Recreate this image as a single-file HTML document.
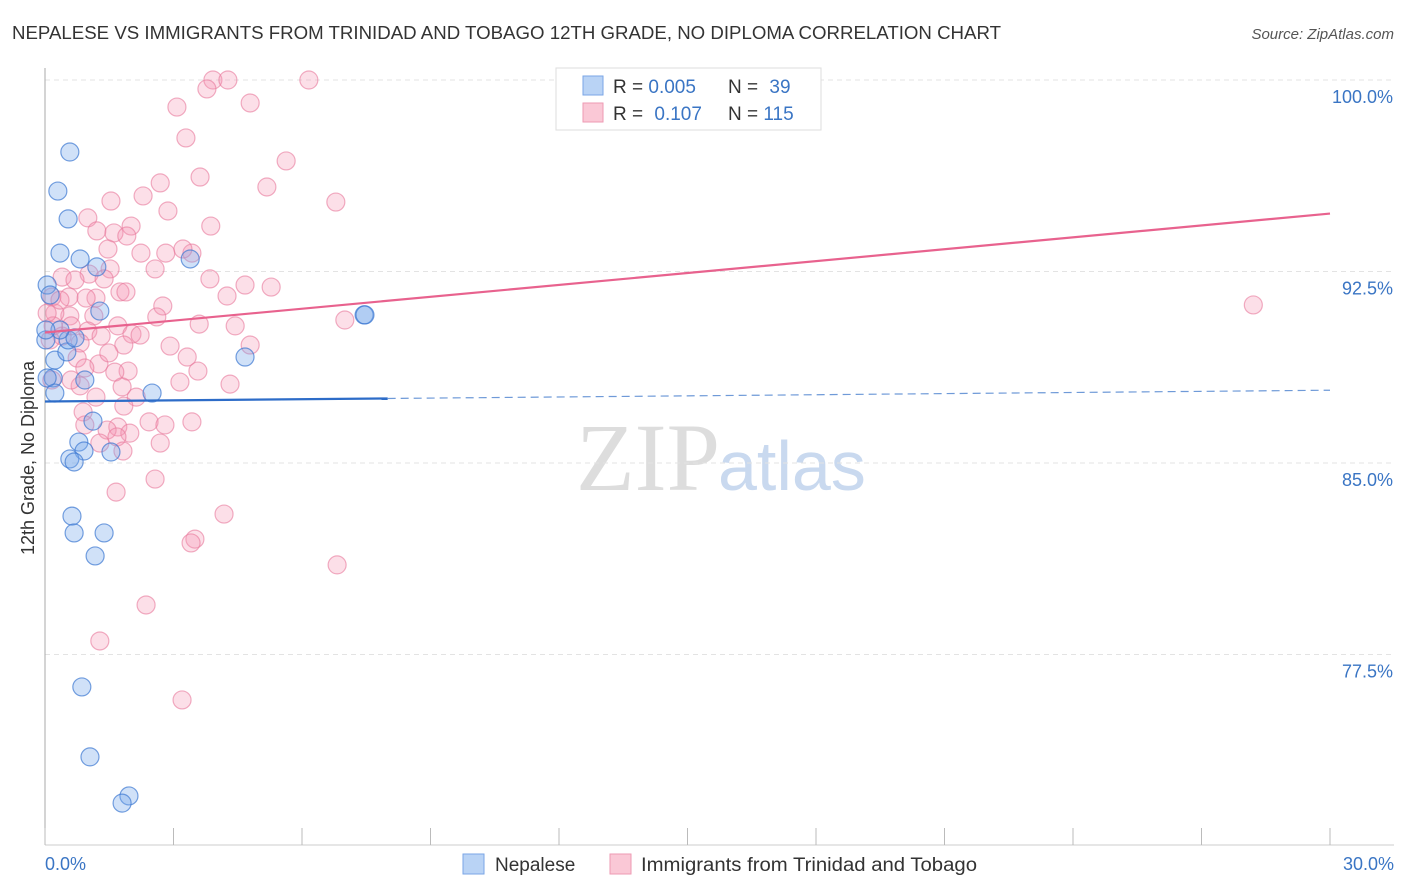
<!DOCTYPE html>
<html><head><meta charset="utf-8"><style>
body{margin:0;background:#fff;font-family:"Liberation Sans",sans-serif}
</style></head><body>
<svg id="chart" width="1406" height="892" xmlns="http://www.w3.org/2000/svg" style="display:block">
<text x="12" y="39" font-size="18" fill="#333" textLength="989" lengthAdjust="spacingAndGlyphs">NEPALESE VS IMMIGRANTS FROM TRINIDAD AND TOBAGO 12TH GRADE, NO DIPLOMA CORRELATION CHART</text>
<text x="1394" y="39" font-size="15" fill="#555" text-anchor="end" font-style="italic">Source: ZipAtlas.com</text>
<text x="720" y="490" font-size="96" fill="#ddd" text-anchor="end" font-family="Liberation Serif">ZIP</text>
<text x="718" y="490" font-size="70" fill="#c9d9ef">atlas</text>
<g id="grid"></g><g id="axes"></g><g id="pts"></g><g id="lines"></g>
<text transform="translate(34,458) rotate(-90)" font-size="18" fill="#333" text-anchor="middle">12th Grade, No Diploma</text>
<text x="45" y="870" font-size="18" fill="#3a75c4">0.0%</text>
<text x="1394" y="870" font-size="18" fill="#3a75c4" text-anchor="end">30.0%</text>
<g>
<rect x="556" y="68" width="265" height="62" fill="#fff" stroke="#ddd"/>
<rect x="583" y="76" width="20" height="19" fill="#b9d3f5" stroke="#7aa6e6"/>
<rect x="583" y="103" width="20" height="19" fill="#fac8d6" stroke="#ee9ab3"/>
<text x="613" y="93" font-size="19" fill="#333">R = <tspan fill="#3a75c4">0.005</tspan></text>
<text x="728" y="93" font-size="19" fill="#333">N = <tspan fill="#3a75c4" dx="6">39</tspan></text>
<text x="613" y="120" font-size="19" fill="#333">R = <tspan fill="#3a75c4" dx="6">0.107</tspan></text>
<text x="728" y="120" font-size="19" fill="#333">N = <tspan fill="#3a75c4">115</tspan></text>
</g>
<g>
<rect x="463" y="854" width="21" height="20" fill="#b9d3f5" stroke="#7aa6e6"/>
<text x="495" y="871" font-size="19" fill="#333">Nepalese</text>
<rect x="610" y="854" width="21" height="20" fill="#fac8d6" stroke="#ee9ab3"/>
<text x="641" y="871" font-size="19" fill="#333" textLength="336" lengthAdjust="spacingAndGlyphs">Immigrants from Trinidad and Tobago</text>
</g>
</svg>
<script>
const yTicks=[100,92.5,85,77.5];
const yTickLabels=["100.0%","92.5%","85.0%","77.5%"];
const xTicks=[0,3,6,9,12,15,18,21,24,27,30];
const blueX=[0.58,0.30,0.54,0.35,0.82,1.21,0.05,0.12,1.28,3.39,7.45,7.47,4.67,0.23,0.51,0.54,0.19,0.05,0.23,0.93,2.50,0.79,0.91,0.58,0.68,1.54,1.12,0.63,0.68,1.38,1.17,0.86,1.05,1.96,1.80,0.70,0.35,0.02,0.02];
const blueY=[97.18,95.65,94.56,93.22,92.99,92.68,91.97,91.58,90.95,92.99,90.80,90.80,89.15,89.03,89.35,89.82,88.33,88.33,87.74,88.25,87.74,85.82,85.47,85.16,85.04,85.43,86.64,82.92,82.26,82.26,81.36,76.23,73.49,71.96,71.68,89.90,90.21,89.82,90.21];
const pinkX=[3.92,4.27,6.16,3.78,3.08,4.79,3.29,5.63,3.62,5.18,2.69,6.79,2.29,1.54,2.87,1.00,3.87,2.01,1.21,1.61,1.91,2.24,2.82,3.43,3.22,1.47,2.57,1.52,1.03,0.40,0.70,1.38,3.85,4.67,5.28,4.25,1.75,1.89,1.19,0.16,0.56,2.75,2.61,1.14,0.58,0.23,7.00,28.21,3.60,4.44,1.70,2.03,1.00,1.31,0.40,0.12,0.61,2.92,4.79,1.84,0.82,0.75,1.26,3.32,3.57,1.94,1.63,0.93,3.15,4.32,1.80,0.82,2.13,1.19,1.84,0.16,0.89,2.43,3.43,2.80,1.70,0.93,1.45,1.98,1.68,2.69,1.82,1.28,2.57,1.66,4.18,3.50,3.41,6.82,2.36,1.28,3.20,0.96,0.35,0.19,0.05,2.22,0.61,1.49];
const pinkY=[100,100,100,99.65,98.94,99.10,97.73,96.83,96.20,95.81,95.97,95.22,95.46,95.26,94.87,94.60,94.28,94.28,94.09,94.01,93.89,93.22,93.22,93.22,93.38,93.38,92.60,92.60,92.40,92.28,92.17,92.21,92.21,91.97,91.89,91.54,91.70,91.70,91.46,91.50,91.50,91.15,90.72,90.76,90.76,90.87,90.60,91.19,90.44,90.37,90.37,90.05,90.17,89.97,89.97,89.82,90.37,89.58,89.62,89.62,89.70,89.11,88.88,89.15,88.60,88.60,88.56,88.72,88.17,88.09,87.98,88.02,87.58,87.58,87.23,88.25,87.00,86.61,86.61,86.49,86.41,86.49,86.29,86.17,86.02,85.78,85.47,85.78,84.37,83.86,83.00,82.02,81.87,81.01,79.44,78.03,75.72,91.46,91.38,90.37,90.87,90.01,88.25,89.31];
const pinkTrend=[90.11,94.77];
const blueTrend=[87.41,87.85];
const X=v=>45+v*(1285/30), Y=v=>80+(100-v)*(191.5/7.5);
const NS="http://www.w3.org/2000/svg";
function mk(t,a,p){const e=document.createElementNS(NS,t);for(const k in a)e.setAttribute(k,a[k]);p.appendChild(e);return e;}
const grid=document.getElementById('grid'),axes=document.getElementById('axes'),pts=document.getElementById('pts'),lines=document.getElementById('lines');
yTicks.forEach((v,i)=>{
 const l=mk('line',{x1:45,x2:1394,y1:Y(v),y2:Y(v),stroke:'#e3e3e3','stroke-dasharray':'5,4'},grid);
 
 
 const t=mk('text',{x:1393,y:Y(v)+23,'font-size':18,fill:'#3a75c4','text-anchor':'end'},grid);
 t.textContent=yTickLabels[i];
 
 
});
const ax=mk('line',{x1:45,x2:45,y1:68,y2:845,stroke:'#aaa'},axes);


const bx=mk('line',{x1:45,x2:1394,y1:845,y2:845,stroke:'#ccc'},axes);


xTicks.forEach(v=>{const t=mk('line',{x1:X(v),x2:X(v),y1:828,y2:845,stroke:'#bbb'},axes);
 
 });
pinkX.forEach((x,i)=>{const c=mk('circle',{cx:X(x),cy:Y(pinkY[i]),r:9,fill:'rgba(244,150,180,0.3)',stroke:'rgba(232,120,155,0.6)','stroke-width':1.2},pts);
 
 });
blueX.forEach((x,i)=>{const c=mk('circle',{cx:X(x),cy:Y(blueY[i]),r:9,fill:'rgba(120,170,235,0.35)',stroke:'rgba(60,120,210,0.7)','stroke-width':1.2},pts);
 
 });
const pl=mk('line',{x1:X(0),y1:Y(pinkTrend[0]),x2:X(30),y2:Y(pinkTrend[1]),stroke:'#e8628e','stroke-width':2.2},lines);


const by=v=>blueTrend[0]+(blueTrend[1]-blueTrend[0])*v/30;
const bl=mk('line',{x1:X(0),y1:Y(by(0)),x2:X(8),y2:Y(by(8)),stroke:'#2d6cc8','stroke-width':2.2},lines);


const bd=mk('line',{x1:X(8),y1:Y(by(8)),x2:X(30),y2:Y(by(30)),stroke:'#6f9ad8','stroke-width':1.2,'stroke-dasharray':'8,5'},lines);


</script>
</body></html>
